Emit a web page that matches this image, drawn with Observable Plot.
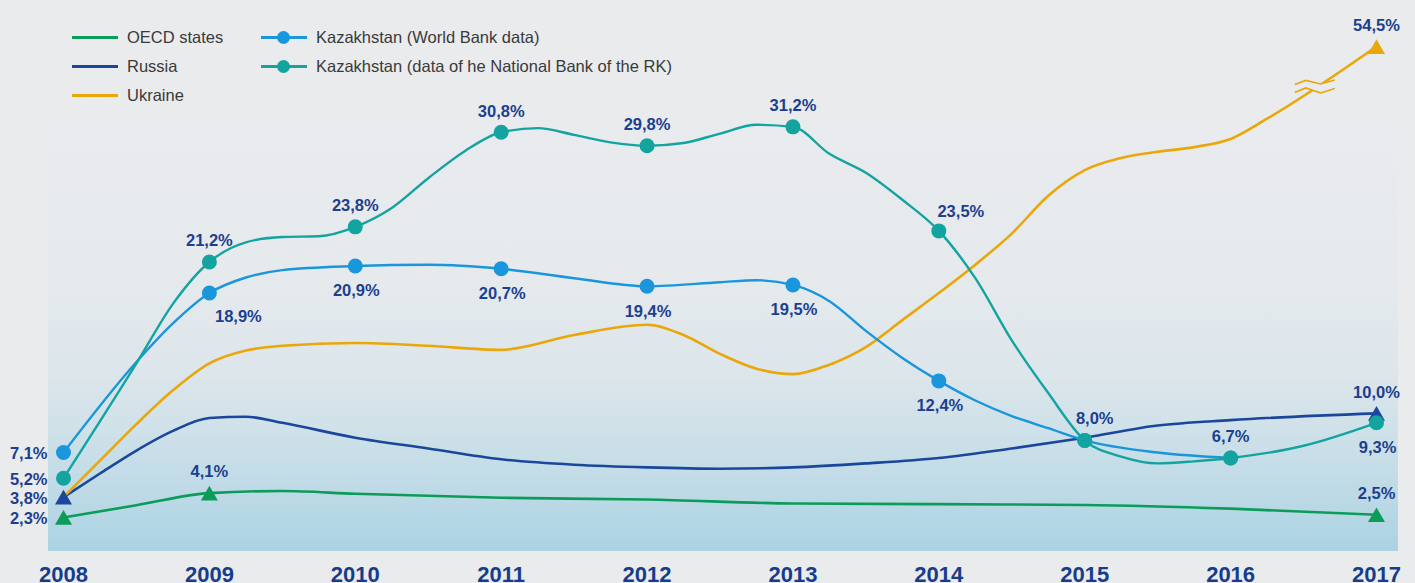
<!DOCTYPE html>
<html>
<head>
<meta charset="utf-8">
<script src="https://cdn.jsdelivr.net/npm/d3@7"></script>
<script src="https://cdn.jsdelivr.net/npm/@observablehq/plot@0.6"></script>
<style>
  html, body { margin: 0; padding: 0; background: #e9ebed; }
  #wrap { position: relative; width: 1415px; height: 583px; overflow: hidden; font-family: "Liberation Sans", Arial, sans-serif; }
  #panel { position: absolute; left: 48px; top: 120px; width: 1350px; height: 431px;
    background: linear-gradient(to bottom, #e9ebed 0%, #e6eaed 35%, #dde6eb 58%, #cfe1e9 72%, #bedae6 86%, #abd3e3 100%); }
  #chart { position: absolute; left: 0; top: 0; }
  #legend { position: absolute; left: 0; top: 0; width: 800px; height: 110px; }
  .li { position: absolute; height: 20px; display: flex; align-items: center; font-size: 16.5px; color: #3a3a3a; white-space: nowrap; }
  .sw { position: relative; width: 46px; height: 3px; margin-right: 9px; }
  .sw .d { position: absolute; left: 16px; top: -5px; width: 13px; height: 13px; border-radius: 50%; }
</style>
</head>
<body>
<div id="wrap">
  <div id="panel"></div>
  <div id="chart"></div>
  <div id="legend"></div>
</div>
<script>
// ---------- data ----------
const years = [2008, 2009, 2010, 2011, 2012, 2013, 2014, 2015, 2016, 2017];

const seriesNames = ["OECD states", "Russia", "Ukraine", "Kazakhstan (World Bank data)", "Kazakhstan (data of he National Bank of the RK)"];

const oecdX = [2008, 2008.5, 2009, 2009.5, 2010, 2011, 2012, 2013, 2014, 2015, 2016, 2017];
const oecdY = [2.3, 3.2, 4.1, 4.25, 4.05, 3.75, 3.63, 3.33, 3.28, 3.22, 2.95, 2.5];

const russiaX = [2008, 2008.25, 2008.5, 2008.75, 2009, 2009.25, 2009.5, 2010, 2010.5, 2011, 2011.5, 2012, 2012.5, 2013, 2013.5, 2014, 2014.5, 2015, 2015.5, 2016, 2017];
const russiaY = [3.8, 5.55, 7.25, 8.7, 9.65, 9.75, 9.3, 8.2, 7.4, 6.6, 6.2, 6.0, 5.9, 6.0, 6.3, 6.7, 7.4, 8.2, 9.1, 9.5, 10.0];

const ukraineX = [2008, 2008.25, 2008.5, 2008.75, 2009, 2009.25, 2009.5, 2010, 2010.5, 2011, 2011.5, 2012, 2012.25, 2012.5, 2012.75, 2013, 2013.25, 2013.5, 2013.75, 2014, 2014.25, 2014.5, 2014.75, 2015, 2015.25, 2015.5, 2015.75, 2016, 2016.25, 2017];
const ukraineY = [3.8, 6.5, 9.2, 11.7, 13.7, 14.65, 15.0, 15.2, 15.0, 14.7, 15.8, 16.55, 15.8, 14.4, 13.3, 12.9, 13.6, 14.9, 16.9, 18.9, 21.0, 23.3, 26.1, 28.0, 28.9, 29.35, 29.7, 30.3, 31.8, 54.5];

const kzWbX = [2008, 2008.5, 2008.75, 2009, 2009.25, 2009.5, 2010, 2010.5, 2011, 2011.5, 2012, 2012.5, 2012.75, 2013, 2013.25, 2013.5, 2013.75, 2014, 2014.25, 2014.5, 2014.75, 2015, 2015.5, 2016];
const kzWbY = [7.1, 13.8, 16.65, 18.9, 20.05, 20.6, 20.9, 21.0, 20.7, 20.0, 19.4, 19.7, 19.85, 19.5, 18.3, 16.1, 14.1, 12.4, 10.95, 9.8, 8.9, 8.0, 7.1, 6.7];

const kzNbX = [2008, 2008.5, 2008.75, 2009, 2009.25, 2009.5, 2009.75, 2010, 2010.25, 2010.5, 2010.75, 2011, 2011.25, 2011.5, 2011.75, 2012, 2012.25, 2012.5, 2012.75, 2013, 2013.25, 2013.5, 2013.75, 2014, 2014.25, 2014.5, 2014.75, 2015, 2015.25, 2015.5, 2015.75, 2016, 2016.5, 2017];
const kzNbY = [5.2, 13.7, 18.1, 21.2, 22.65, 23.05, 23.1, 23.8, 25.2, 27.4, 29.4, 30.8, 31.1, 30.6, 30.05, 29.8, 30.0, 30.7, 31.35, 31.2, 29.2, 27.8, 25.8, 23.5, 20.0, 15.4, 11.5, 8.0, 6.8, 6.3, 6.45, 6.7, 7.6, 9.3];

// years carrying a marker / a value label
const oecdMarked = [2008, 2009, 2017];
const russiaMarked = [2008, 2017];
const ukraineMarked = [2017];
const kzWbMarked = [2008, 2009, 2010, 2011, 2012, 2013, 2014, 2015, 2016];
const kzNbMarked = [2008, 2009, 2010, 2011, 2012, 2013, 2014, 2015, 2016, 2017];
const kzWbLabelled = [2008, 2009, 2010, 2011, 2012, 2013, 2014];

// ---------- styling / layout ----------
const colors = ["#0c9c5a", "#1a479b", "#eaa70a", "#1996dc", "#13a4a0"];
const labelColor = "#1c3f8f";
const seriesData = [
  {id: "oecd", xs: oecdX, ys: oecdY, marked: oecdMarked, labelled: oecdMarked, symbol: "triangle", width: 2.6},
  {id: "russia", xs: russiaX, ys: russiaY, marked: russiaMarked, labelled: russiaMarked, symbol: "triangle", width: 2.6},
  {id: "ukraine", xs: ukraineX, ys: ukraineY, marked: ukraineMarked, labelled: ukraineMarked, symbol: "triangle", width: 2.6},
  {id: "wb", xs: kzWbX, ys: kzWbY, marked: kzWbMarked, labelled: kzWbLabelled, symbol: "circle", width: 2.4},
  {id: "nb", xs: kzNbX, ys: kzNbY, marked: kzNbMarked, labelled: kzNbMarked, symbol: "circle", width: 2.4}
];
seriesData.forEach((s, i) => { s.name = seriesNames[i]; s.color = colors[i]; });

const placement = {
  "oecd-2008": "left", "oecd-2009": "above", "oecd-2017": "above",
  "russia-2008": "left", "russia-2017": "above",
  "ukraine-2017": "above",
  "wb-2008": "left", "wb-2009": "belowRight",
  "nb-2008": "left", "nb-2014": "aboveRight", "nb-2015": "aboveRightNear", "nb-2017": "below"
};
function place(id, yr) {
  const k = id + "-" + yr;
  if (placement[k]) return placement[k];
  return id === "wb" ? "below" : "above";
}
const placeStyles = {
  left: {dx: -16, dy: 1.5, textAnchor: "end"},
  above: {dx: 0, dy: -21, textAnchor: "middle"},
  below: {dx: 1, dy: 25, textAnchor: "middle"},
  belowRight: {dx: 29, dy: 24, textAnchor: "middle"},
  aboveRight: {dx: 22, dy: -19, textAnchor: "middle"},
  aboveRightNear: {dx: 10, dy: -22, textAnchor: "middle"}
};

const fmt = v => v.toFixed(1).replace(".", ",") + "%";

// tables
const lineRows = [];
const markRows = [];
const labelRows = [];
seriesData.forEach(s => {
  s.xs.forEach((x, j) => lineRows.push({id: s.id, x, y: s.ys[j]}));
  s.marked.forEach(yr => {
    const j = s.xs.indexOf(yr);
    markRows.push({id: s.id, x: yr, y: s.ys[j]});
  });
  s.labelled.forEach(yr => {
    const j = s.xs.indexOf(yr);
    labelRows.push({id: s.id, x: yr, y: s.ys[j], text: fmt(s.ys[j]), place: place(s.id, yr)});
  });
});

// broken value axis: above breakValue the scale is compressed
const breakValue = 33;
const compress = 0.1927;
const yTransform = v => (v <= breakValue ? v : breakValue + (v - breakValue) * compress);
const breakYear = 2016.58;

function drawBreak(svg, sx, syRaw) {
  // scale function may or may not include the transform
  const topVal = ukraineY[ukraineY.length - 1];
  const a = syRaw(topVal), b = syRaw(yTransform(topVal));
  const includes = Math.abs(a - 46) < Math.abs(b - 46);
  const sy = v => includes ? syRaw(v) : syRaw(yTransform(v));
  const j = ukraineX.length - 1;
  const x1 = sx(ukraineX[j - 1]), y1 = sy(ukraineY[j - 1]);
  const x2 = sx(ukraineX[j]), y2 = sy(ukraineY[j]);
  const cx = sx(breakYear);
  const cy = y1 + (y2 - y1) * (cx - x1) / (x2 - x1);
  const top = [[-20, -2], [-9, -6], [6, -2.5], [20, -6.5]];
  const bot = [[-20, 6], [-9, 1.5], [6, 6.5], [20, 2]];
  const p = pts => pts.map(([u, w]) => [cx + u, cy + w]);
  const g = d3.create("svg:g");
  const poly = p(top).concat(p(bot).reverse());
  g.append("path").attr("d", "M" + poly.map(d => d.join(",")).join("L") + "Z").attr("fill", "#e9ebee");
  const ln = d3.line();
  g.append("path").attr("d", ln(p(top))).attr("fill", "none").attr("stroke", colors[2]).attr("stroke-width", 1.6);
  g.append("path").attr("d", ln(p(bot))).attr("fill", "none").attr("stroke", colors[2]).attr("stroke-width", 1.6);
  return g.node();
}

const lineMarks = [];
const topMarks = [];
seriesData.forEach(s => {
  lineMarks.push(Plot.line(lineRows.filter(d => d.id === s.id), {
    x: "x", y: "y", stroke: s.color, strokeWidth: s.width, curve: "monotone-x"
  }));
});
seriesData.forEach(s => {
  const rows = markRows.filter(d => d.id === s.id);
  if (s.symbol === "circle") {
    topMarks.push(Plot.dot(rows, {x: "x", y: "y", r: 7.5, fill: s.color, symbol: "circle"}));
  } else {
    topMarks.push(Plot.dot(rows, {x: "x", y: "y", r: 6.3, dy: 2.5, fill: s.color, symbol: "triangle"}));
  }
});
Object.entries(placeStyles).forEach(([k, st]) => {
  topMarks.push(Plot.text(labelRows.filter(d => d.place === k), {
    x: "x", y: "y", text: "text", dx: st.dx, dy: st.dy, textAnchor: st.textAnchor,
    fill: labelColor, fontSize: 16.5, fontWeight: "bold"
  }));
});
topMarks.push(Plot.axisX(years, {
  tickSize: 0, tickPadding: 0, anchor: "bottom", lineAnchor: "bottom", dy: -2, label: null,
  tickFormat: d => String(d), fontSize: 22, fontWeight: "bold", fill: "#163c8c"
}));

const chart = Plot.plot({
  width: 1415,
  height: 583,
  marginTop: 0, marginBottom: 0, marginLeft: 0, marginRight: 0,
  style: {background: "transparent", fontFamily: "'Liberation Sans', Arial, sans-serif", overflow: "visible"},
  x: {domain: [2008, 2017], range: [63, 1376], axis: null, label: null},
  y: {transform: yTransform, domain: [0, yTransform(54.5)], range: [548, 46], axis: null, label: null},
  marks: [...lineMarks, ...topMarks]
});

// break symbol on the Ukraine line, positioned through the plot's own scales,
// inserted just after the line marks (below markers and labels)
try {
  const xs = chart.scale("x"), ys = chart.scale("y");
  const node = drawBreak(chart, v => xs.apply(v), v => ys.apply(v));
  const groups = Array.from(chart.children).filter(n => n.tagName.toLowerCase() === "g");
  const after = groups[lineMarks.length - 1];
  if (after && after.nextSibling) chart.insertBefore(node, after.nextSibling); else chart.appendChild(node);
} catch (e) { console.error(e); }

document.getElementById("chart").appendChild(chart);

// legend (HTML, built from the series)
const legend = document.getElementById("legend");
const legendPos = [[72, 37], [72, 66], [72, 95], [261, 37], [261, 66]];
seriesData.forEach((s, i) => {
  const el = document.createElement("div");
  el.className = "li";
  el.style.left = legendPos[i][0] + "px";
  el.style.top = (legendPos[i][1] - 10) + "px";
  const sw = document.createElement("div");
  sw.className = "sw";
  sw.style.background = s.color;
  if (s.symbol === "circle") {
    const d = document.createElement("div");
    d.className = "d";
    d.style.background = s.color;
    sw.appendChild(d);
  }
  el.appendChild(sw);
  const t = document.createElement("span");
  t.textContent = s.name;
  el.appendChild(t);
  legend.appendChild(el);
});
</script>
</body>
</html>
